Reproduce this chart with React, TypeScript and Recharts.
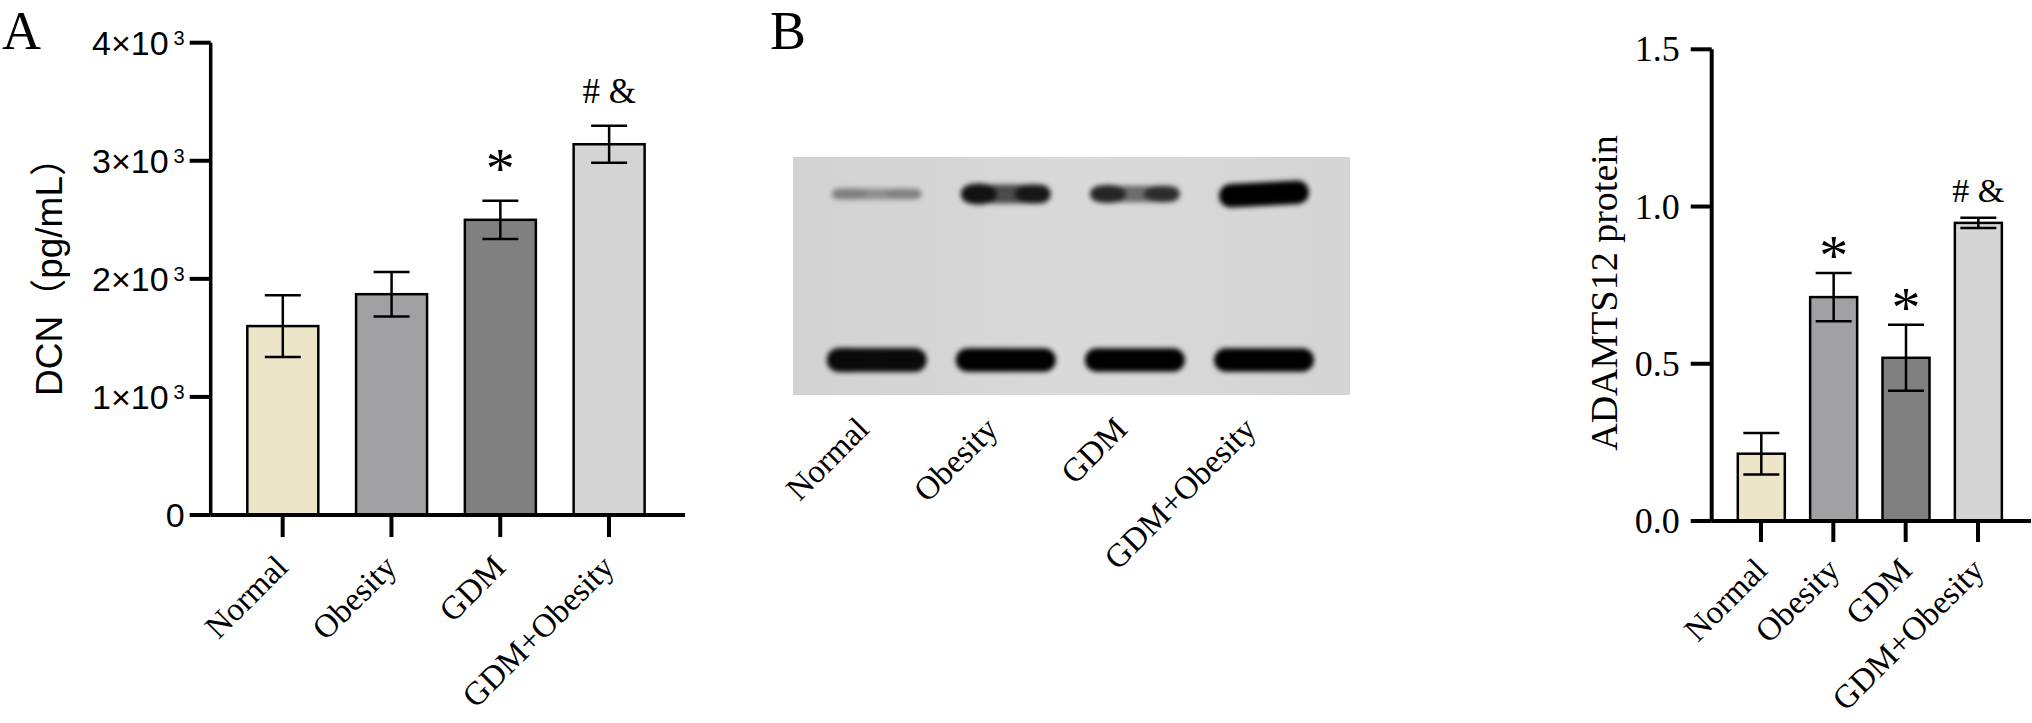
import { ComposedChart, Bar, ErrorBar, XAxis, YAxis, Label, ScatterChart, Scatter, CartesianGrid } from 'recharts'

const groups = ['Normal', 'Obesity', 'GDM', 'GDM+Obesity']

// A: DCN ELISA
const dcnMean = [1600, 1870, 2500, 3140]
const dcnSd = [262, 188, 162, 156]
const dcnMarks = ['', '', '*', '# &']
const dcnTicks = [0, 1000, 2000, 3000, 4000]

// B: ADAMTS12 densitometry
const adamtsMean = [0.214, 0.712, 0.519, 0.948]
const adamtsSd = [0.066, 0.077, 0.105, 0.016]
const adamtsMarks = ['', '*', '*', '# &']
const adamtsTicks = [0, 0.5, 1.0, 1.5]

// B: western blot bands (relative density, edge lobes, tilt)
const blotRows = ['ADAMTS12', 'β-actin']
const adamtsBand = [0.38, 1.0, 0.8, 1.35]
const adamtsLobe = [0.05, 0.35, 0.3, 0]
const adamtsTilt = [0, 0, 0, -3]
const actinBand = [1.4, 1.35, 1.35, 1.35]
const actinLobe = [0.05, 0, 0, 0]

const barColors = ['#ece5c8', '#a1a1a4', '#808080', '#d4d4d4']
const serif = '"Liberation Serif", "Times New Roman", serif'
const sans = '"Liberation Sans", Arial, "Noto Sans CJK SC", sans-serif'
const cjk = '"Noto Sans CJK SC", sans-serif'
const axisStyle = { stroke: '#000', strokeWidth: 4 }

const dcnData = groups.map((g, i) => ({ group: g, mean: dcnMean[i], sd: dcnSd[i], mark: dcnMarks[i] }))
const adamtsData = groups.map((g, i) => ({ group: g, mean: adamtsMean[i], sd: adamtsSd[i], mark: adamtsMarks[i] }))
const rowLevel = (r: number) => blotRows.length - r
const adamtsBands = groups.map((g, i) => ({ lane: i, row: rowLevel(0), density: adamtsBand[i], lobe: adamtsLobe[i], tilt: adamtsTilt[i], w: 90 }))
const actinBands = groups.map((g, i) => ({ lane: i, row: rowLevel(1), density: actinBand[i], lobe: actinLobe[i], tilt: 0, w: 100 }))

/* ── shared pieces ───────────────────────────────────── */
const rotTick = (dx: number, dy: number, names?: string[]) => (p: any) => {
  const ax = p.x + dx
  const ay = p.y + dy
  const text = names ? names[p.payload.value] : p.payload.value
  return (
    <text x={ax} y={ay} textAnchor="end" transform={`rotate(-45 ${ax} ${ay})`}
      fontFamily={serif} fontSize={33} fill="#000">{text}</text>
  )
}

// bar + significance mark placed above the error cap
const barShape = (starGap: number, hashGap: number, hashSize: number) => (p: any) => {
  const { x, y, width, height, payload } = p
  const i = groups.indexOf(payload.group)
  const errTop = y - payload.sd * (height / payload.mean)
  const star = payload.mark === '*'
  return (
    <g>
      <rect x={x} y={y} width={width} height={height} fill={barColors[i]} stroke="#000" strokeWidth={2.5} />
      {payload.mark && (
        <text x={x + width / 2} y={errTop - (star ? starGap : hashGap)} textAnchor="middle"
          fontFamily={serif} fontSize={star ? 58 : hashSize} fill="#000">{payload.mark}</text>
      )}
    </g>
  )
}

const sciTick = (p: any) => {
  const v = p.payload.value
  const common = { x: p.x, y: p.y + 12, textAnchor: 'end' as const, fontFamily: sans, fontSize: 34, fill: '#000' }
  if (v === 0) return <text {...common}>0</text>
  return (
    <text {...common}>
      <tspan>{v / 1000}×10</tspan>
      <tspan dx={5} dy={-10} fontSize={20}>3</tspan>
    </text>
  )
}

function BandShape(p: any) {
  const { cx, cy, payload } = p
  const d = payload.density
  const w = payload.w
  const h = 6 + 13 * d
  const a = Math.min(1, d)
  const core = Math.max(0, a - payload.lobe)
  const lobe = Math.min(1, payload.lobe * 2.2)
  return (
    <g filter="url(#bandBlur)" transform={`rotate(${payload.tilt} ${cx} ${cy})`}>
      <rect x={cx - w / 2} y={cy - h / 2} width={w} height={h} rx={h / 2} fill="#000" fillOpacity={core} />
      <ellipse cx={cx - w * 0.3} cy={cy} rx={w * 0.2} ry={h * 0.56} fill="#000" fillOpacity={lobe} />
      <ellipse cx={cx + w * 0.3} cy={cy} rx={w * 0.2} ry={h * 0.5} fill="#000" fillOpacity={lobe * 0.9} />
    </g>
  )
}

/* ── A: DCN ──────────────────────────────────────────── */
function DcnChart() {
  return (
    <ComposedChart width={700} height={723} data={dcnData} margin={{ top: 42.7, right: 15, bottom: 0, left: 0 }}>
      <XAxis dataKey="group" type="category" height={208} interval={0}
        padding={{ left: 17.6, right: 21.6 }} axisLine={axisStyle} tickLine={axisStyle}
        tickSize={22} tick={rotTick(7, 30)} />
      <YAxis type="number" domain={[0, 4000]} ticks={dcnTicks} interval={0} width={210.7}
        axisLine={{ stroke: '#000', strokeWidth: 3.5 }} tickLine={axisStyle} tickSize={21} tickMargin={5}
        tick={sciTick}>
        <Label content={() => (
          <text x={62} y={396} transform="rotate(-90 62 396)" textAnchor="start"
            fontFamily={sans} fontSize={37} fill="#000">
            DCN<tspan fontFamily={cjk}>（</tspan>pg/mL<tspan fontFamily={cjk}>）</tspan>
          </text>
        )} />
      </YAxis>
      <Bar dataKey="mean" barSize={71} shape={barShape(13, 23, 35)} isAnimationActive={false}>
        <ErrorBar dataKey="sd" width={18} stroke="#000" strokeWidth={2.5} />
      </Bar>
    </ComposedChart>
  )
}

/* ── B: western blot ─────────────────────────────────── */
function BlotChart() {
  return (
    <ScatterChart width={800} height={723} margin={{ top: 157, right: 0, bottom: 0, left: 93 }}>
      <CartesianGrid fill="url(#blotBg)" fillOpacity={1} horizontal={false} vertical={false} />
      <XAxis dataKey="lane" type="number" domain={[0, 3]} ticks={[0, 1, 2, 3]} interval={0} height={328}
        padding={{ left: 83.7, right: 86 }} axisLine={false} tickLine={false} tickSize={0} tickMargin={0}
        tick={rotTick(-6, 36, groups)} />
      <YAxis yAxisId={0} orientation="left" width={0} hide dataKey="row" type="number" domain={[1, 2]}
        padding={{ top: 37, bottom: 35 }} />
      <YAxis yAxisId="lbl" orientation="right" dataKey="row" type="number" domain={[1, 2]} width={150}
        padding={{ top: 37, bottom: 35 }} ticks={[2, 1]} interval={0} axisLine={false} tickLine={false}
        tickSize={0} tickMargin={15}
        tick={(p: any) => (
          <text x={p.x} y={p.y + 10} textAnchor="start" fontFamily={serif} fontSize={30} fill="#000">
            {blotRows[blotRows.length - p.payload.value]}
          </text>
        )} />
      <Scatter data={adamtsBands} shape={BandShape} isAnimationActive={false} />
      <Scatter data={actinBands} shape={BandShape} isAnimationActive={false} />
    </ScatterChart>
  )
}

/* ── B: ADAMTS12 protein ─────────────────────────────── */
function AdamtsChart() {
  return (
    <ComposedChart width={492} height={723} data={adamtsData} margin={{ top: 49.3, right: 1, bottom: 0, left: 0 }}>
      <XAxis dataKey="group" type="category" height={202} interval={0}
        padding={{ left: 13.1, right: 16.8 }} axisLine={axisStyle} tickLine={axisStyle}
        tickSize={21} tick={rotTick(8, 28)} />
      <YAxis type="number" domain={[0, 1.5]} ticks={adamtsTicks} interval={0} width={171.7}
        axisLine={axisStyle} tickLine={axisStyle} tickSize={21} tickMargin={11}
        tick={(p: any) => (
          <text x={p.x} y={p.y + 12} textAnchor="end" fontFamily={serif} fontSize={36} fill="#000">
            {Number(p.payload.value).toFixed(1)}
          </text>
        )}>
        <Label content={() => (
          <text x={77} y={293} transform="rotate(-90 77 293)" textAnchor="middle"
            fontFamily={serif} fontSize={38} fill="#000">ADAMTS12 protein</text>
        )} />
      </YAxis>
      <Bar dataKey="mean" barSize={47} shape={barShape(-2, 15.4, 34)} isAnimationActive={false}>
        <ErrorBar dataKey="sd" width={18} stroke="#000" strokeWidth={2.5} />
      </Bar>
    </ComposedChart>
  )
}

export default function App() {
  return (
    <div style={{ position: 'absolute', left: 0, top: 0, width: 2032, height: 723, background: '#fff', overflow: 'hidden' }}>
      <svg width={0} height={0} style={{ position: 'absolute' }}>
        <defs>
          <filter id="bandBlur" filterUnits="userSpaceOnUse" x={-200} y={-200} width={1400} height={1200}>
            <feGaussianBlur stdDeviation={2.6} />
          </filter>
          <linearGradient id="blotBg" x1="0" y1="0" x2="1" y2="0">
            <stop offset="0" stopColor="#d2d2d2" />
            <stop offset="0.5" stopColor="#d9d9d9" />
            <stop offset="1" stopColor="#d5d5d5" />
          </linearGradient>
        </defs>
      </svg>
      <div style={{ position: 'absolute', left: 0, top: 0 }}><DcnChart /></div>
      <div style={{ position: 'absolute', left: 700, top: 0 }}><BlotChart /></div>
      <div style={{ position: 'absolute', left: 1540, top: 0 }}><AdamtsChart /></div>
      <svg width={2032} height={723} style={{ position: 'absolute', left: 0, top: 0, pointerEvents: 'none' }}>
        <text x={2} y={49} fontFamily={serif} fontSize={54} fill="#000">A</text>
        <text x={770} y={49} fontFamily={serif} fontSize={54} fill="#000">B</text>
      </svg>
    </div>
  )
}
